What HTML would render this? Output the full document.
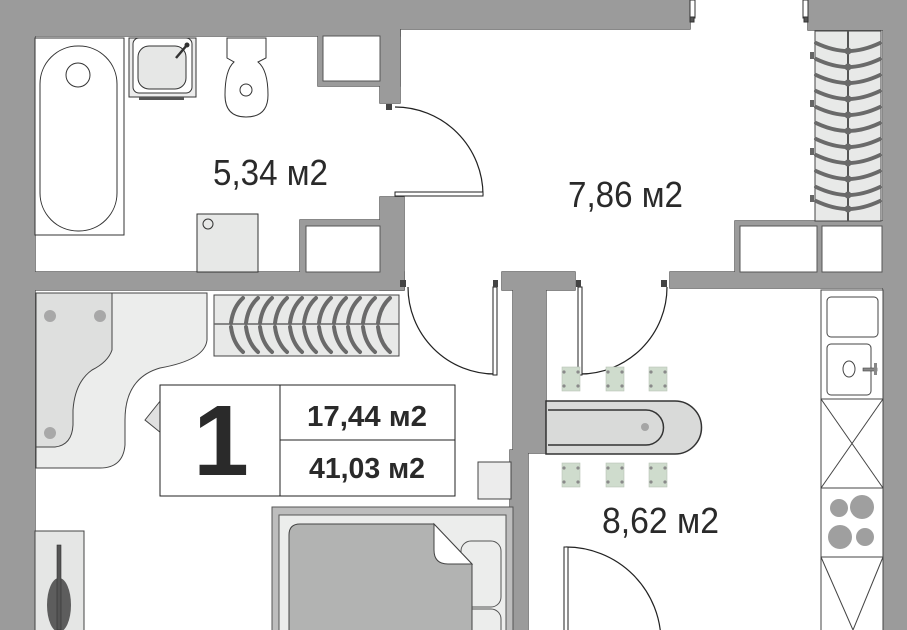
<!DOCTYPE html>
<html><head><meta charset="utf-8"><style>
html,body{margin:0;padding:0;background:#fff;}
svg{display:block;}
text{font-family:"Liberation Sans",sans-serif;fill:#2a2a2a;}
</style></head><body>
<svg width="907" height="630" viewBox="0 0 907 630" xmlns="http://www.w3.org/2000/svg">
<defs>
<g id="hangV">
 <path d="M-32,-6 Q-15,2 0,2" stroke="#6a6a6a" stroke-width="4" fill="none" stroke-linecap="round"/>
 <path d="M32,-6 Q15,2 0,2" stroke="#6a6a6a" stroke-width="4" fill="none" stroke-linecap="round"/>
 <circle cx="0" cy="2" r="3.5" fill="#6a6a6a"/>
</g>
<g id="hangH">
 <path d="M-10,-2 Q-8,-18 2,-27" stroke="#6a6a6a" stroke-width="4" fill="none" stroke-linecap="round"/>
 <path d="M-10,2 Q-8,18 2,27" stroke="#6a6a6a" stroke-width="4" fill="none" stroke-linecap="round"/>
</g>
<g id="chair">
 <rect x="0" y="0" width="18" height="24" fill="#cfdccd" stroke="#b8c4b6" stroke-width="0.6"/>
 <circle cx="2" cy="5" r="1.6" fill="#8a8a8a"/><circle cx="16" cy="5" r="1.6" fill="#8a8a8a"/>
 <circle cx="2" cy="19" r="1.6" fill="#8a8a8a"/><circle cx="16" cy="19" r="1.6" fill="#8a8a8a"/>
</g>
<g id="walls">
 <rect x="0" y="0" width="35" height="630"/>
 <rect x="0" y="0" width="400" height="36"/>
 <rect x="380" y="0" width="310" height="29"/>
 <rect x="808" y="0" width="99" height="30"/>
 <rect x="883" y="0" width="24" height="630"/>
 <rect x="318" y="29" width="82" height="57"/>
 <rect x="380" y="29" width="20" height="74"/>
 <rect x="380" y="197" width="24" height="93"/>
 <rect x="300" y="220" width="90" height="60"/>
 <rect x="0" y="272" width="404" height="18"/>
 <rect x="670" y="272" width="213" height="16"/>
 <rect x="735" y="221" width="148" height="60"/>
 <rect x="502" y="272" width="73" height="18"/>
 <rect x="513" y="285" width="33" height="168"/>
 <rect x="510" y="450" width="18" height="180"/>
</g>
</defs>
<use href="#walls" fill="#9b9b9b" stroke="#555" stroke-width="1.4"/>
<use href="#walls" fill="#9b9b9b"/>
<g fill="#fff" stroke="#555" stroke-width="1">
 <rect x="323" y="36" width="57" height="45"/>
 <rect x="306" y="226" width="74" height="46"/>
 <rect x="740" y="226" width="77" height="46"/>
 <rect x="822" y="226" width="60" height="46"/>
</g>
<!-- entrance jambs -->
<g fill="#fff" stroke="#333" stroke-width="1">
 <rect x="690" y="0" width="5" height="18"/><rect x="803" y="0" width="5" height="18"/>
 <rect x="690" y="17" width="4" height="5" fill="#555"/><rect x="804" y="17" width="4" height="5" fill="#555"/>
</g>
<!-- bathroom fixtures -->
<g stroke="#333" stroke-width="1" fill="#fff">
 <rect x="35" y="38" width="89" height="197"/>
 <rect x="40" y="46" width="77" height="185" rx="38" ry="38"/>
 <circle cx="78" cy="75" r="12"/>
 <rect x="129" y="38" width="67" height="59" fill="#ececec"/>
 <rect x="133" y="38" width="59" height="55" rx="6" fill="#fff"/>
 <rect x="138" y="46" width="48" height="43" rx="11" fill="#e6e7e6"/>
 <path d="M227,38 H266 V58 L258,62 Q268,70 268,95 Q268,117 246,117 Q225,117 225,95 Q225,70 234,62 L227,58 Z"/>
 <circle cx="246" cy="90" r="6"/>
 <rect x="197" y="214" width="61" height="58" fill="#e7e8e7"/>
 <circle cx="208" cy="224" r="5" fill="#e7e8e7"/>
</g>
<line x1="176" y1="58" x2="187" y2="45" stroke="#333" stroke-width="2.5"/>
<circle cx="187" cy="45" r="2.5" fill="#333"/>
<rect x="139" y="97" width="45" height="3" fill="#555"/>
<!-- doors -->
<g stroke="#222" stroke-width="1.2" fill="none">
 <path d="M395,107 A88,88 0 0 1 483,195"/>
 <path d="M408,287 A87,87 0 0 0 495,374"/>
 <path d="M667,287 A87,87 0 0 1 580,374"/>
 <path d="M566,547 A95,95 0 0 1 661,642"/>
</g>
<g fill="#fff" stroke="#222" stroke-width="1">
 <rect x="395" y="192" width="88" height="4"/>
 <rect x="493" y="287" width="4" height="88"/>
 <rect x="578" y="287" width="4" height="88"/>
 <rect x="564" y="547" width="4" height="90"/>
</g>
<g fill="#444"><rect x="386" y="104" width="6" height="6"/><rect x="400" y="280" width="6" height="7"/><rect x="661" y="280" width="6" height="7"/><rect x="493" y="280" width="5" height="7"/><rect x="576" y="280" width="5" height="7"/></g>
<!-- wardrobe -->
<rect x="815" y="31" width="66" height="190" fill="#e8e9e8" stroke="#444" stroke-width="1"/>
<line x1="848" y1="31" x2="848" y2="221" stroke="#555" stroke-width="2"/>
<g transform="translate(848,0)">
 <use href="#hangV" y="49"/><use href="#hangV" y="65"/><use href="#hangV" y="81"/><use href="#hangV" y="97"/>
 <use href="#hangV" y="113"/><use href="#hangV" y="129"/><use href="#hangV" y="145"/><use href="#hangV" y="161"/>
 <use href="#hangV" y="177"/><use href="#hangV" y="193"/><use href="#hangV" y="207"/>
</g>
<g fill="#666"><rect x="810" y="52" width="4" height="7"/><rect x="810" y="100" width="4" height="7"/><rect x="810" y="148" width="4" height="7"/><rect x="810" y="195" width="4" height="7"/></g>
<!-- rack in bedroom -->
<rect x="214" y="295" width="185" height="61" fill="#e8e9e8" stroke="#444" stroke-width="1"/>
<line x1="214" y1="324" x2="399" y2="324" stroke="#666" stroke-width="1.5"/>
<g transform="translate(0,325)">
 <use href="#hangH" x="241"/><use href="#hangH" x="256"/><use href="#hangH" x="270"/><use href="#hangH" x="285"/>
 <use href="#hangH" x="300"/><use href="#hangH" x="314"/><use href="#hangH" x="329"/><use href="#hangH" x="344"/>
 <use href="#hangH" x="358"/><use href="#hangH" x="373"/><use href="#hangH" x="388"/>
</g>
<!-- desk -->
<path d="M36,293 H207 V340 Q205,360 160,368 Q125,378 125,420 V445 Q123,468 100,468 H36 Z" fill="#ecedec" stroke="#444" stroke-width="1"/>
<path d="M36,293 H112 V350 Q108,362 92,370 Q75,382 73,410 V425 Q72,445 55,447 H36 Z" fill="#dedfde" stroke="#444" stroke-width="1"/>
<circle cx="50" cy="316" r="6" fill="#a8a8a8"/><circle cx="100" cy="316" r="6" fill="#a8a8a8"/><circle cx="50" cy="433" r="6" fill="#a8a8a8"/>
<path d="M161,400 L145,420 L161,433 Z" fill="#e0e0e0" stroke="#444" stroke-width="1"/>
<!-- info box -->
<rect x="160" y="385" width="295" height="111" fill="#fff" stroke="#222" stroke-width="1"/>
<line x1="280" y1="385" x2="280" y2="496" stroke="#222" stroke-width="1"/>
<line x1="280" y1="440" x2="455" y2="440" stroke="#222" stroke-width="1"/>
<text x="221" y="475" font-size="100" font-weight="bold" text-anchor="middle" fill="#1f1f1f">1</text>
<text x="307" y="426" font-size="29" font-weight="bold" textLength="120" lengthAdjust="spacingAndGlyphs">17,44 м2</text>
<text x="309" y="478" font-size="29" font-weight="bold" textLength="116" lengthAdjust="spacingAndGlyphs">41,03 м2</text>
<rect x="478" y="462" width="33" height="37" fill="#ececec" stroke="#444" stroke-width="1"/>
<!-- guitar -->
<rect x="35" y="531" width="49" height="100" fill="#e5e6e5" stroke="#444" stroke-width="1"/>
<ellipse cx="59" cy="605" rx="12" ry="27" fill="#5d5d5d"/>
<rect x="57" y="545" width="4" height="85" fill="#555" stroke="#333" stroke-width="0.6"/>
<!-- bed -->
<rect x="272" y="507" width="241" height="130" fill="#bdbdbd" stroke="#555" stroke-width="1"/>
<rect x="279" y="515" width="227" height="120" fill="#ecedec" stroke="#555" stroke-width="1"/>
<rect x="461" y="541" width="40" height="66" rx="10" fill="#ecedec" stroke="#555" stroke-width="1"/>
<rect x="461" y="609" width="40" height="40" rx="10" fill="#ecedec" stroke="#555" stroke-width="1"/>
<path d="M300,524 H434 L472,564 V640 H289 V535 Q289,524 300,524 Z" fill="#b2b3b2" stroke="#444" stroke-width="1"/>
<path d="M434,524 L472,564 H448 Q434,564 434,550 Z" fill="#fff" stroke="#444" stroke-width="1"/>
<!-- bar + chairs -->
<path d="M546,401 H675 A26.5,26.5 0 0 1 675,454 H546 Z" fill="#d9dad9" stroke="#333" stroke-width="1.5"/>
<path d="M548,410 H646 A17.5,17.5 0 0 1 646,445 H548" fill="none" stroke="#333" stroke-width="1.5"/>
<circle cx="645" cy="427" r="4" fill="#a5a5a5"/>
<use href="#chair" x="562" y="367"/><use href="#chair" x="606" y="367"/><use href="#chair" x="649" y="367"/>
<use href="#chair" x="562" y="463"/><use href="#chair" x="606" y="463"/><use href="#chair" x="649" y="463"/>
<!-- kitchen counter -->
<g stroke="#444" stroke-width="1" fill="#fff">
 <rect x="821" y="290" width="62" height="345"/>
 <rect x="827" y="297" width="51" height="40" rx="4"/>
 <rect x="827" y="344" width="44" height="51" rx="4"/>
 <ellipse cx="849" cy="369" rx="6" ry="8"/>
 <line x1="821" y1="399" x2="883" y2="399"/>
 <line x1="821" y1="399" x2="883" y2="488"/><line x1="883" y1="399" x2="821" y2="488"/>
 <line x1="821" y1="488" x2="883" y2="488"/>
 <line x1="821" y1="557" x2="883" y2="557"/>
 <line x1="821" y1="557" x2="853" y2="630"/><line x1="883" y1="557" x2="853" y2="630"/>
</g>
<rect x="863" y="368" width="14" height="3" fill="#888" stroke="#444" stroke-width="0.6"/>
<rect x="874" y="363" width="3" height="12" fill="#888"/>
<g fill="#9f9f9f"><circle cx="839" cy="508" r="9"/><circle cx="862" cy="507" r="12"/><circle cx="840" cy="537" r="12"/><circle cx="865" cy="537" r="9"/></g>
<!-- labels -->
<g font-size="36" fill="#2e2e2e">
<text x="213" y="185" textLength="115" lengthAdjust="spacingAndGlyphs">5,34 м2</text>
<text x="568" y="207" textLength="115" lengthAdjust="spacingAndGlyphs">7,86 м2</text>
<text x="602" y="533" textLength="117" lengthAdjust="spacingAndGlyphs">8,62 м2</text>
</g>
</svg>
</body></html>
